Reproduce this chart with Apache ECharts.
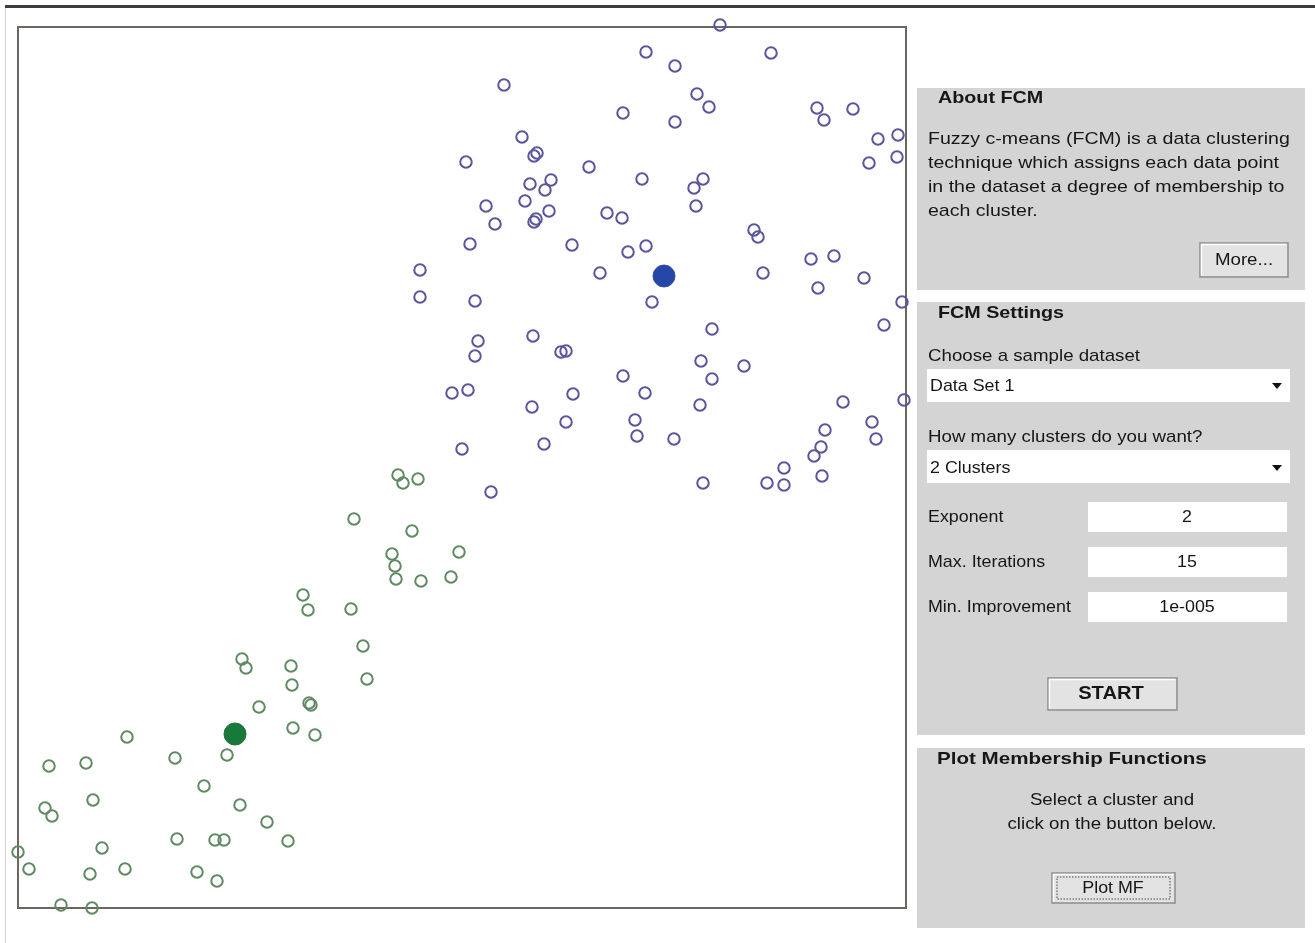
<!DOCTYPE html>
<html>
<head>
<meta charset="utf-8">
<script src="https://cdn.jsdelivr.net/npm/echarts@6/dist/echarts.min.js"></script>
<style>
html,body{margin:0;padding:0;background:#fff;}
#chart{width:1315px;height:943px;}
</style>
</head>
<body>
<div id="chart"></div>
<script>
// ---- data ----
var xRange = [0, 888];
var yRange = [0, 881];

var cluster1Points = [
  [702,883],[628,856],[657,842],[753,855],[486,823],[679,814],[691,801],[605,795],[657,786],
  [799,800],[806,788],[835,799],[860,769],[880,773],[851,745],[879,751],[504,771],[516,752],
  [519,755],[448,746],[571,741],[624,729],[685,729],[676,720],[512,724],[533,728],[527,718],
  [507,707],[468,702],[477,684],[531,697],[516,686],[518,689],[589,695],[604,690],[678,702],
  [452,664],[554,663],[610,656],[628,662],[736,678],[740,671],[402,638],[402,611],[457,607],
  [582,635],[745,635],[793,649],[816,652],[800,620],[846,630],[884,606],[866,583],[634,606],
  [694,579],[460,567],[457,552],[515,572],[543,556],[548,557],[683,547],[726,542],[694,529],
  [605,532],[627,515],[555,514],[434,515],[450,518],[514,501],[548,486],[617,488],[619,472],
  [682,503],[825,506],[854,486],[858,469],[886,508],[807,478],[803,461],[796,452],[766,440],
  [749,425],[766,423],[804,432],[685,425],[656,469],[526,464],[444,459],[473,416]
];
var cluster2Points = [
  [380,433],[385,425],[400,429],[336,389],[394,377],[374,354],[377,342],[378,329],[403,327],
  [441,356],[433,331],[285,313],[290,298],[333,299],[345,262],[349,229],[224,249],[228,240],
  [273,242],[274,223],[291,205],[293,203],[241,201],[275,180],[297,173],[209,153],[109,171],
  [31,142],[68,145],[157,150],[186,122],[75,108],[27,100],[34,92],[222,103],[249,86],
  [159,69],[197,68],[206,68],[270,67],[84,60],[0,56],[11,39],[72,34],[107,39],[179,36],
  [199,27],[43,3],[74,0]
];
var cluster1Centre = [[646,632]];
var cluster2Centre = [[217,174]];

var aboutLines = [
  'Fuzzy c-means (FCM) is a data clustering',
  'technique which assigns each data point',
  'in the dataset a degree of membership to',
  'each cluster.'
];
var settingLabels = ['Exponent', 'Max. Iterations', 'Min. Improvement'];
var settingValues = ['2', '15', '1e-005'];
var datasetChoice = 'Data Set 1';
var clusterChoice = '2 Clusters';
var mfLines = ['Select a cluster and', 'click on the button below.'];

// ---- chart ----
var FONT = 'Arial, "Liberation Sans", sans-serif';
var chart = echarts.init(document.getElementById('chart'));

function txt(x, y, s, opt) {
  opt = opt || {};
  return {
    type: 'text', x: x, y: y, z: 100,
    scaleX: opt.sx || 1.07, scaleY: 1,
    style: {
      text: s, x: 0, y: 0,
      font: (opt.bold ? 'bold ' : '') + (opt.size || 18) + 'px ' + FONT,
      fill: opt.color || '#161616',
      textAlign: opt.align || 'left',
      textVerticalAlign: 'middle'
    }
  };
}
function rect(x, y, w, h, fill, stroke, lw, dash) {
  return {
    type: 'rect', z: 50,
    shape: {x: x, y: y, width: w, height: h},
    style: {fill: fill, stroke: stroke || null, lineWidth: lw || 0, lineDash: dash || null}
  };
}
function button(x, y, w, h, dotted) {
  var els = [
    rect(x, y, w, h, '#e3e3e3', '#8d8d8d', 1.5),
    {type:'polyline', z:51, shape:{points:[[x+1.5,y+h-1.5],[x+1.5,y+1.5],[x+w-1.5,y+1.5]]}, style:{stroke:'#ffffff', lineWidth:1.5, fill:null}}
  ];
  if (dotted) els.push(rect(x+5, y+4, w-10, h-8, null, '#444', 1, [1.5,1.5]));
  return els;
}
function arrow(cx, cy) {
  return {type:'polygon', z:60, shape:{points:[[cx-5,cy-3],[cx+5,cy-3],[cx,cy+3]]}, style:{fill:'#111'}};
}

var graphics = [];
// window frame lines
graphics.push(rect(5, 5, 1310, 3, '#3c3c3c'));
graphics.push(rect(5, 8, 1, 935, '#d0d0d0'));
// panels
graphics.push(rect(917, 88, 388, 202, '#d4d4d4'));
graphics.push(rect(917, 302, 388, 433, '#d4d4d4'));
graphics.push(rect(917, 748, 388, 180, '#d4d4d4'));

// About FCM
graphics.push(txt(938, 98, 'About FCM', {bold:true, size:17, sx:1.16}));
[139,163,187,211].forEach(function (yy, i) { graphics.push(txt(928, yy, aboutLines[i], {size:17, sx:1.15})); });
graphics = graphics.concat(button(1200, 243, 88, 34));
graphics.push(txt(1244, 260, 'More...', {size:17, sx:1.1, align:'center'}));

// FCM Settings
graphics.push(txt(938, 313, 'FCM Settings', {bold:true, size:17, sx:1.16}));
graphics.push(txt(928, 356, 'Choose a sample dataset', {size:17, sx:1.1}));
graphics.push(rect(927, 369, 363, 33, '#ffffff'));
graphics.push(txt(930, 386, datasetChoice, {size:17, sx:1.05}));
graphics.push(arrow(1277, 386));
graphics.push(txt(928, 437, 'How many clusters do you want?', {size:17, sx:1.1}));
graphics.push(rect(927, 450, 363, 33, '#ffffff'));
graphics.push(txt(930, 468, clusterChoice, {size:17, sx:1.05}));
graphics.push(arrow(1277, 468));
var rowY = [517, 562, 607];
rowY.forEach(function (yy, i) {
  graphics.push(txt(928, yy, settingLabels[i], {size:17, sx:1.05}));
  graphics.push(rect(1088, yy - 15, 199, 30, '#ffffff'));
  graphics.push(txt(1187, yy, settingValues[i], {size:17, sx:1.05, align:'center'}));
});
graphics = graphics.concat(button(1048, 678, 129, 32));
graphics.push(txt(1111, 694, 'START', {bold:true, size:18, sx:1.12, align:'center'}));

// Plot Membership Functions
graphics.push(txt(937, 759, 'Plot Membership Functions', {bold:true, size:17, sx:1.21}));
graphics.push(txt(1112, 800, mfLines[0], {size:17, sx:1.1, align:'center'}));
graphics.push(txt(1112, 824, mfLines[1], {size:17, sx:1.1, align:'center'}));
graphics = graphics.concat(button(1052, 873, 123, 30, true));
graphics.push(txt(1113, 888, 'Plot MF', {size:17, sx:1.05, align:'center'}));

var ringBlue = '#5a559c';
var ringGreen = '#5f8a62';

chart.setOption({
  animation: false,
  backgroundColor: '#ffffff',
  grid: {left: 18, top: 27, width: 888, height: 881, show: true, borderColor: '#6f6560', borderWidth: 2, backgroundColor: 'transparent'},
  xAxis: {type: 'value', min: xRange[0], max: xRange[1], show: false},
  yAxis: {type: 'value', min: yRange[0], max: yRange[1], show: false},
  tooltip: {show: false},
  series: [
    {type: 'scatter', name: 'Cluster 1', data: cluster1Points, clip: false, symbol: 'circle', symbolSize: 11.5,
      itemStyle: {color: 'rgba(0,0,0,0)', borderColor: ringBlue, borderWidth: 2, opacity: 1}, z: 3},
    {type: 'scatter', name: 'Cluster 2', data: cluster2Points, clip: false, symbol: 'circle', symbolSize: 11.5,
      itemStyle: {color: 'rgba(0,0,0,0)', borderColor: ringGreen, borderWidth: 2, opacity: 1}, z: 3},
    {type: 'scatter', name: 'Centre 1', data: cluster1Centre, clip: false, symbol: 'circle', symbolSize: 22,
      itemStyle: {color: '#2747a8', borderColor: '#3a4f9a', borderWidth: 1, opacity: 1}, z: 4},
    {type: 'scatter', name: 'Centre 2', data: cluster2Centre, clip: false, symbol: 'circle', symbolSize: 22,
      itemStyle: {color: '#17793a', borderColor: '#2a6e3c', borderWidth: 1, opacity: 1}, z: 4}
  ],
  graphic: graphics
});
</script>
</body>
</html>
